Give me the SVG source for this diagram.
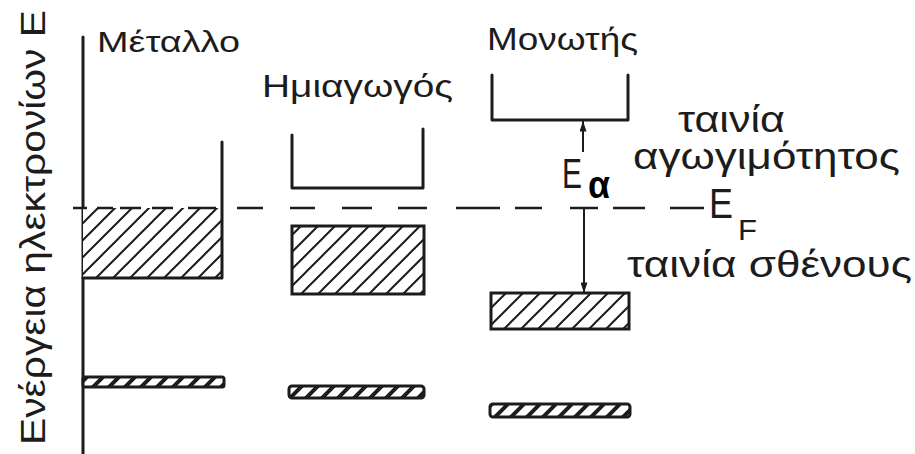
<svg xmlns="http://www.w3.org/2000/svg" width="915" height="454" viewBox="0 0 915 454">
<style>
.ln{stroke:#1c1c1c;stroke-width:3;fill:none;stroke-linecap:round;stroke-linejoin:round}
.hb{fill:url(#hatch);stroke:#1c1c1c;stroke-width:3}
.sb{fill:url(#hatchS);stroke:#1c1c1c;stroke-width:3}
.t{font-family:"Liberation Sans","DejaVu Sans",sans-serif;fill:#1c1c1c}
.dash{stroke:#1c1c1c;stroke-width:2.5;fill:none}
.arr{stroke:#1c1c1c;stroke-width:2;fill:none}
</style>
<defs>
<pattern id="hatch" patternUnits="userSpaceOnUse" width="17" height="17"><rect width="17" height="17" fill="#fff"/><path d="M-2,2 L2,-2 M0,17 L17,0 M15,19 L19,15" stroke="#1c1c1c" stroke-width="2"/></pattern>
<pattern id="hatchS" patternUnits="userSpaceOnUse" width="16" height="16"><rect width="16" height="16" fill="#fff"/><path d="M-2,2 L2,-2 M0,16 L16,0 M14,18 L18,14" stroke="#1c1c1c" stroke-width="4"/></pattern>
<marker id="ah" viewBox="0 0 12 8" refX="12" refY="4" markerWidth="12" markerHeight="7" markerUnits="userSpaceOnUse" orient="auto"><path d="M0,0 L12,4 L0,8 z" fill="#1c1c1c"/></marker>
</defs>
<rect width="915" height="454" fill="#fff"/>

<g id="axis">
<path class="ln" d="M83,37 L83,454"/>
<text class="t" transform="translate(45,445) rotate(-90)" font-size="35" textLength="435" lengthAdjust="spacingAndGlyphs">Ενέργεια ηλεκτρονίων Ε</text>
</g>

<g id="metal">
<rect x="83" y="208" width="140" height="70" fill="url(#hatch)"/>
<path class="ln" d="M222,142 L222,278 L83,278"/>
<rect class="sb" x="83" y="377" width="141" height="10" rx="2"/>
<text class="t" x="97" y="52" font-size="29" textLength="143" lengthAdjust="spacingAndGlyphs">Μέταλλο</text>
</g>

<g id="semiconductor">
<path class="ln" d="M292,135 L292,188 L423,188 L423,129"/>
<rect class="hb" x="292" y="226" width="132" height="68"/>
<rect class="sb" x="289" y="386" width="135" height="12" rx="3"/>
<text class="t" x="262" y="97" font-size="32" textLength="191" lengthAdjust="spacingAndGlyphs">Ημιαγωγός</text>
</g>

<g id="insulator">
<path class="ln" d="M492,75 L492,120 L628,120 L628,75"/>
<rect class="hb" x="491" y="293" width="138" height="36"/>
<rect class="sb" x="490" y="404" width="140" height="13" rx="3"/>
<text class="t" x="487" y="50" font-size="31" textLength="151" lengthAdjust="spacingAndGlyphs">Μονωτής</text>
</g>

<g id="fermi">
<path class="dash" d="M73,208 H87 M97,208 H113 M120,208 H141 M152,208 H173 M188,208 H216 M237,208 H263 M290,208 H315 M342,208 H372 M398,208 H427 M456,208 H500 M515,208 H542 M570,208 H598 M613,208 H645 M670,208 H704"/>
<text class="t"><tspan x="709" y="218" font-size="43" textLength="24" lengthAdjust="spacingAndGlyphs">E</tspan><tspan x="738" y="240" font-size="29" textLength="19" lengthAdjust="spacingAndGlyphs">F</tspan></text>
</g>

<g id="connectors">
<path class="arr" d="M583,152 L583,121" marker-end="url(#ah)"/>
<path class="arr" d="M584,208 L584,293" marker-end="url(#ah)"/>
</g>

<g id="gap-label">
<text class="t"><tspan x="562" y="188" font-size="43" textLength="20" lengthAdjust="spacingAndGlyphs">E</tspan><tspan x="588" y="198" font-size="38" font-weight="bold" fill="#000" textLength="22" lengthAdjust="spacingAndGlyphs">α</tspan></text>
</g>

<g id="band-labels">
<text class="t" font-size="37"><tspan x="678" y="132" textLength="107" lengthAdjust="spacingAndGlyphs">ταινία</tspan><tspan x="633" y="169" textLength="267" lengthAdjust="spacingAndGlyphs">αγωγιμότητος</tspan></text>
<text class="t" x="627" y="277" font-size="37" textLength="285" lengthAdjust="spacingAndGlyphs">ταινία σθένους</text>
</g>
</svg>
